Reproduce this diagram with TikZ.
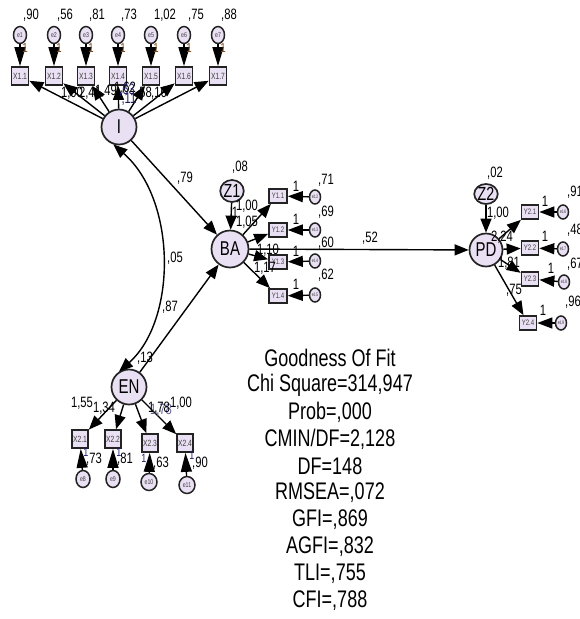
\documentclass[tikz,border=0pt]{standalone}
\usepackage{fontspec}
\setmainfont{Liberation Sans}[FakeStretch=0.75]
\usetikzlibrary{arrows.meta,shapes.geometric}
\definecolor{nodefill}{RGB}{234,224,244}
\definecolor{edgecol}{RGB}{35,35,35}
\definecolor{onecol}{RGB}{130,70,20}
\definecolor{onecolb}{RGB}{30,30,110}
\tikzset{
 latent/.style={circle,draw=edgecol,line width=1.7pt,fill=nodefill,inner sep=0pt,minimum size=35pt,font=\fontsize{20}{20}\selectfont},
 dist/.style={ellipse,draw=edgecol,line width=1.7pt,fill=nodefill,inner sep=0pt,minimum width=19pt,minimum height=22pt,font=\fontsize{19}{19}\selectfont},
 errtop/.style={ellipse,draw=edgecol,line width=1.5pt,fill=nodefill,inner sep=0pt,minimum width=13pt,minimum height=17pt,font=\fontsize{7}{7}\selectfont,text=black!75},
 errsm/.style={ellipse,draw=edgecol,line width=1.5pt,fill=nodefill,inner sep=0pt,minimum width=11pt,minimum height=14pt,font=\fontsize{5}{5}\selectfont,text=black!75},
 obsx/.style={rectangle,draw=edgecol,line width=1.7pt,fill=nodefill,inner sep=0pt,minimum width=17pt,minimum height=18pt,font=\fontsize{9}{9}\selectfont,text=black!75},
 obsy/.style={rectangle,draw=edgecol,line width=1.7pt,fill=nodefill,inner sep=0pt,minimum width=18pt,minimum height=14pt,font=\fontsize{8}{8}\selectfont,text=black!75},
 lab/.style={inner sep=0pt,font=\fontsize{15}{15}\selectfont},
 onelab/.style={inner sep=0pt,font=\fontsize{13}{13}\selectfont,text=onecol},
 onelabb/.style={inner sep=0pt,font=\fontsize{12}{12}\selectfont,text=onecolb},
 arr/.style={-{Triangle[length=14pt,width=11pt]},line width=1.4pt,draw=black},
 earr/.style={-{Triangle[length=19pt,width=11pt]},line width=1.4pt,draw=black},
 harr/.style={-{Triangle[length=15pt,width=11pt]},line width=1.4pt,draw=black},
 biarr/.style={{Triangle[length=14pt,width=11pt]}-{Triangle[length=14pt,width=11pt]},line width=1.4pt},
 gof/.style={inner sep=0pt,font=\fontsize{24}{24}\selectfont},
}
\begin{document}
\begin{tikzpicture}[x=1pt,y=-1pt]
\useasboundingbox (0,0) rectangle (579,619);
% ---------- latent I and its indicators
\node[latent] (I) at (119,127) {I};
\node[errtop] (e1) at (20,35) {e1};
\node[errtop] (e2) at (54,35) {e2};
\node[errtop] (e3) at (86,35) {e3};
\node[errtop] (e4) at (118,35) {e4};
\node[errtop] (e5) at (151,35) {e5};
\node[errtop] (e6) at (184,35) {e6};
\node[errtop] (e7) at (218,35) {e7};
\node[obsx] (X11) at (20,76) {X1.1};
\node[obsx] (X12) at (54,76) {X1.2};
\node[obsx] (X13) at (86,76) {X1.3};
\node[obsx] (X14) at (118,76) {X1.4};
\node[obsx] (X15) at (151,76) {X1.5};
\node[obsx] (X16) at (184,76) {X1.6};
\node[obsx] (X17) at (218,76) {X1.7};
\foreach \k in {1,...,7}{
  \pgfmathtruncatemacro{\j}{\k}
  \draw[earr] (e\j) -- (X1\j);
  \draw[arr] (I) -- (X1\j);
}
\node[lab] (v1) at (31,15) {,90};
\node[lab] (v2) at (65,15) {,56};
\node[lab] (v3) at (97,15) {,81};
\node[lab] (v4) at (129,15) {,73};
\node[lab] (v5) at (165,15) {1,02};
\node[lab] (v6) at (196,15) {,75};
\node[lab] (v7) at (229,15) {,88};
\node[onelab] (o1) at (25,48) {1};
\node[onelab] (o2) at (59,48) {1};
\node[onelab] (o3) at (91,48) {1};
\node[onelab] (o4) at (123,48) {1};
\node[onelab] (o5) at (156,48) {1};
\node[onelab] (o6) at (189,48) {1};
\node[onelab] (o7) at (223,48) {1};
\node[lab] (l1) at (72,93) {1,00};
\node[lab] (l2) at (90,93) {2,41};
\node[lab] (l3) at (106,91) {1,49};
\node[lab] (l4) at (125,88) {1,62};
\node[lab,text=onecolb] (l4b) at (127,90) {,63};
\node[lab,text=onecolb!80!black] (l5) at (129,99) {,11};
\node[lab] (l6) at (144,93) {,58};
\node[lab] (l7) at (159,93) {,16};
% ---------- BA
\node[latent,minimum size=37pt] (BA) at (230,249) {BA};
\node[dist] (Z1) at (232,191) {Z1};
\draw[arr] (Z1) -- (BA);
\node[lab] (vz1) at (240,167) {,08};
\node[lab] (lz1) at (247,206) {1,00};
\node[lab] (oz1) at (235,212) {1};
\node[obsy] (Y11) at (278,196) {Y1.1};
\node[obsy] (Y12) at (278,230) {Y1.2};
\node[obsy] (Y13) at (278,262) {Y1.3};
\node[obsy] (Y14) at (278,296) {Y1.4};
\node[errsm] (e12) at (315,197) {e12};
\node[errsm] (e13) at (315,230) {e13};
\node[errsm] (e14) at (315,261) {e14};
\node[errsm] (e15) at (315,295) {e15};
\foreach \a/\b in {Y11/e12,Y12/e13,Y13/e14,Y14/e15}{
  \draw[arr] (BA) -- (\a);
  \draw[harr] (\b) -- (\a);
}
\node[lab] (ob1) at (296,186) {1};
\node[lab] (ob2) at (296,219) {1};
\node[lab] (ob3) at (296,251) {1};
\node[lab] (ob4) at (296,284) {1};
\node[lab] (vb1) at (326,180) {,71};
\node[lab] (vb2) at (326,212) {,69};
\node[lab] (vb3) at (326,243) {,60};
\node[lab] (vb4) at (326,275) {,62};
\node[lab] (lb2) at (247,222) {1,05};
\node[lab] (lb3) at (268,250) {1,10};
\node[lab] (lb4) at (265,268) {1,17};
% ---------- PD
\node[latent,minimum size=33pt] (PD) at (486,250) {PD};
\draw[arr] (BA) -- (PD);
\node[lab] (l52) at (370,238) {,52};
\node[dist,minimum width=18pt,minimum height=20pt] (Z2) at (486,194) {Z2};
\draw[arr] (Z2) -- (PD);
\node[lab] (vz2) at (495,173) {,02};
\node[obsy,minimum width=17pt] (Y21) at (530,212) {Y2.1};
\node[obsy,minimum width=17pt] (Y22) at (530,248) {Y2.2};
\node[obsy,minimum width=17pt] (Y23) at (530,279) {Y2.3};
\node[obsy,minimum width=17pt] (Y24) at (528,323) {Y2.4};
\node[errsm] (e16) at (563,212) {e16};
\node[errsm] (e17) at (563,249) {e17};
\node[errsm] (e18) at (564,282) {e18};
\node[errsm] (e19) at (561,323) {e19};
\foreach \a/\b in {Y21/e16,Y22/e17,Y23/e18,Y24/e19}{
  \draw[arr] (PD) -- (\a);
  \draw[harr] (\b) -- (\a);
}
\node[lab] (op1) at (545,201) {1};
\node[lab] (op2) at (545,236) {1};
\node[lab] (op3) at (551,268) {1};
\node[lab] (op4) at (543,310) {1};
\node[lab] (vp1) at (575,192) {,91};
\node[lab] (vp2) at (575,230) {,48};
\node[lab] (vp3) at (575,264) {,67};
\node[lab] (vp4) at (573,302) {,96};
\node[lab] (lp1) at (498,213) {1,00};
\node[lab] (lp2) at (502,237) {2,24};
\node[lab] (lp3) at (509,263) {1,81};
\node[lab] (lp4) at (514,290) {,75};
% ---------- EN
\node[latent] (EN) at (129,387) {EN};
\node[obsx,minimum width=16pt] (X21) at (80,439) {X2.1};
\node[obsx,minimum width=16pt] (X22) at (113,439) {X2.2};
\node[obsx,minimum width=16pt] (X23) at (150,443) {X2.3};
\node[obsx,minimum width=16pt] (X24) at (185,443) {X2.4};
\node[errtop,minimum width=14pt] (e8) at (83,479) {e8};
\node[errtop,minimum width=14pt] (e9) at (113,479) {e9};
\node[errtop,minimum width=16pt] (e10) at (149,482) {e10};
\node[errtop,minimum width=16pt] (e11) at (187,485) {e11};
\foreach \a/\b in {X21/e8,X22/e9,X23/e10,X24/e11}{
  \draw[arr] (EN) -- (\a);
  \draw[earr] (\b) -- (\a);
}
\node[onelabb] (oe1) at (86,452) {1};
\node[onelabb] (oe2) at (119,452) {1};
\node[onelabb] (oe3) at (144,458) {1};
\node[onelabb] (oe4) at (192,455) {1};
\node[lab] (ve1) at (94,459) {,73};
\node[lab] (ve2) at (125,459) {,81};
\node[lab] (ve3) at (161,463) {,63};
\node[lab] (ve4) at (200,463) {,90};
\node[lab] (le1) at (82,403) {1,55};
\node[lab] (le2) at (104,408) {1,34};
\node[lab,text=onecolb!70] (le3b) at (161,410) {1,78};
\node[lab] (le3) at (159,408) {1,78};
\node[lab] (le4) at (181,403) {1,00};
\node[lab] (ven) at (145,358) {,13};
% ---------- structural paths
\draw[arr] (I) -- (BA);
\draw[arr] (EN) -- (BA);
\draw[biarr] (I.-108) .. controls (177,200) and (177,320) .. (EN.123);
\node[lab] (l79) at (185,178) {,79};
\node[lab] (l05) at (175,258) {,05};
\node[lab] (l87) at (170,307) {,87};
% ---------- goodness of fit
\node[gof] (g0) at (330,358) {Goodness Of Fit};
\node[gof] (g1) at (330,385) {Chi Square=314,947};
\node[gof] (g2) at (330,412) {Prob=,000};
\node[gof] (g3) at (330,439) {CMIN/DF=2,128};
\node[gof] (g4) at (330,466) {DF=148};
\node[gof] (g5) at (330,493) {RMSEA=,072};
\node[gof] (g6) at (330,520) {GFI=,869};
\node[gof] (g7) at (330,547) {AGFI=,832};
\node[gof] (g8) at (330,574) {TLI=,755};
\node[gof] (g9) at (330,601) {CFI=,788};
\end{tikzpicture}
\end{document}
